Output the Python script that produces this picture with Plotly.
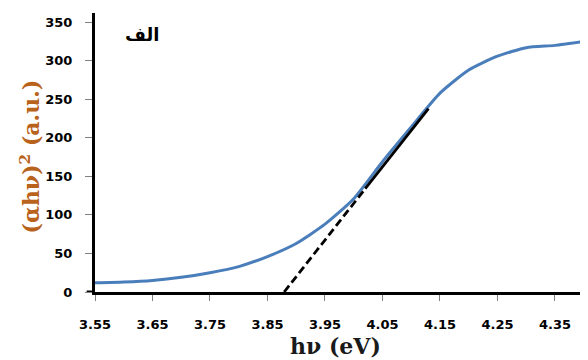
import plotly.graph_objects as go

# Curve data
hv = [3.55, 3.60, 3.65, 3.70, 3.75, 3.80, 3.85, 3.90, 3.95, 4.00,
      4.05, 4.10, 4.15, 4.20, 4.25, 4.30, 4.35, 4.40]
ahv2 = [12, 13, 15, 19, 25, 33, 46, 63, 88, 121,
        169, 214, 258, 288, 306, 317, 320, 325]

# Tangent (Tauc extrapolation) line
tan_dash_x = [3.879, 4.02]
tan_dash_y = [0, 134]
tan_solid_x = [4.02, 4.13]
tan_solid_y = [134, 238]

x_ticks = [3.55, 3.65, 3.75, 3.85, 3.95, 4.05, 4.15, 4.25, 4.35]
x_tick_text = ["3.55", "3.65", "3.75", "3.85", "3.95", "4.05", "4.15", "4.25", "4.35"]
y_ticks = [0, 50, 100, 150, 200, 250, 300, 350]
y_tick_text = ["0", "50", "100", "150", "200", "250", "300", "350"]

panel_label = "الف"
x_title = "hν (eV)"
y_title = "(αhν)<sup>2</sup> (a.u.)"

fig = go.Figure()
fig.add_trace(go.Scatter(x=hv, y=ahv2, mode="lines",
                         line=dict(color="#4A7EBB", width=3, shape="spline", smoothing=0.6),
                         hoverinfo="skip", showlegend=False))
fig.add_trace(go.Scatter(x=tan_dash_x, y=tan_dash_y, mode="lines",
                         line=dict(color="black", width=2.8, dash="8px,4px"),
                         showlegend=False))
fig.add_trace(go.Scatter(x=tan_solid_x, y=tan_solid_y, mode="lines",
                         line=dict(color="black", width=2.8),
                         showlegend=False))

fig.add_annotation(x=3.632, y=334, xref="x", yref="y", text="<b>" + panel_label + "</b>",
                   showarrow=False, font=dict(family="DejaVu Sans", size=18, color="black"))

# axis titles as annotations so the margins stay fixed
fig.add_annotation(x=0.488, y=-0.195, xref="paper", yref="paper", yanchor="middle",
                   text="<b>" + x_title + "</b>", showarrow=False,
                   font=dict(family="DejaVu Serif", size=22, color="#1a1a1a"))
fig.add_annotation(x=-0.132, y=0.486, xref="paper", yref="paper", xanchor="center",
                   text="<b>" + y_title + "</b>", showarrow=False, textangle=-90,
                   font=dict(family="DejaVu Serif", size=22, color="#B8621B"))

# extension of x-axis line to the left (Excel cross)
fig.add_shape(type="line", xref="paper", yref="y", x0=-0.017, x1=0, y0=0, y1=0,
              line=dict(color="black", width=3))

tick_font = dict(family="DejaVu Sans", size=13, color="black", weight="bold")

# page body has an 8px margin, so the figure is 8px smaller and margins shifted
fig.update_layout(
    width=580, height=352,
    margin=dict(l=87, r=1, t=5, b=68),
    paper_bgcolor="white", plot_bgcolor="white",
    xaxis=dict(range=[3.55, 4.4057], tickvals=x_ticks, ticktext=x_tick_text,
               showgrid=False, zeroline=False, showline=True, linecolor="black", linewidth=3,
               ticks="outside", ticklen=6, tickwidth=1, tickcolor="#808080",
               tickfont=tick_font, ticklabelstandoff=12, automargin=False),
    yaxis=dict(range=[0, 362], tickvals=y_ticks, ticktext=y_tick_text,
               showgrid=False, zeroline=False, showline=True, linecolor="black", linewidth=3,
               ticks="outside", ticklen=7, tickwidth=1, tickcolor="#808080",
               tickfont=tick_font, ticklabelstandoff=10, automargin=False),
)

fig.write_html("out.html")
